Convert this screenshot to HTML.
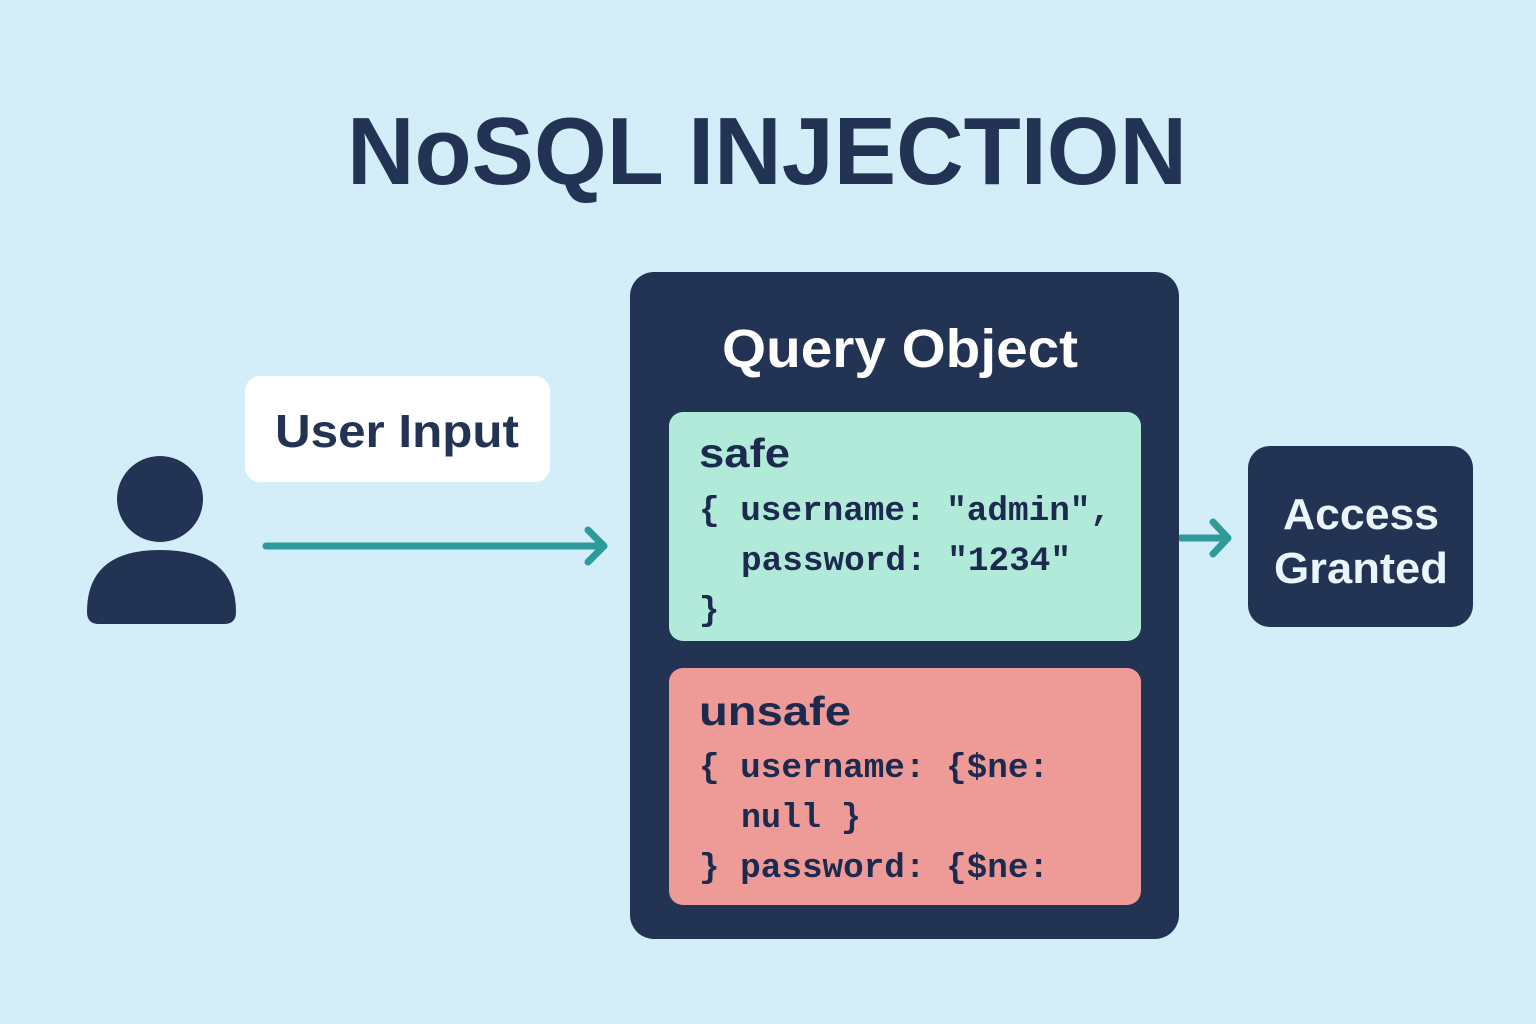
<!DOCTYPE html>
<html><head><meta charset="utf-8"><style>
html,body{margin:0;padding:0;width:1536px;height:1024px;overflow:hidden;background:#d3edf9}
svg{display:block}
</style></head><body>
<svg width="1536" height="1024" viewBox="0 0 1536 1024" xmlns="http://www.w3.org/2000/svg">
<rect width="1536" height="1024" fill="#d3edf9"/>
<text x="767" y="184" text-anchor="middle" font-family="Liberation Sans, sans-serif" font-weight="bold" font-size="96" fill="#223354" textLength="840" lengthAdjust="spacingAndGlyphs">NoSQL INJECTION</text>

<!-- person -->
<circle cx="160" cy="499" r="43" fill="#223354"/>
<path d="M87 612 Q87 550 160 550 Q236 550 236 612 Q236 624 224 624 L99 624 Q87 624 87 612 Z" fill="#223354"/>

<!-- user input -->
<rect x="245" y="376" width="305" height="106" rx="15" fill="#ffffff"/>
<text x="275" y="447" font-family="Liberation Sans, sans-serif" font-weight="bold" font-size="46" fill="#223354" textLength="244" lengthAdjust="spacingAndGlyphs">User Input</text>

<!-- arrow -->
<g stroke="#2f9a9a" stroke-width="7" stroke-linecap="round" stroke-linejoin="round" fill="none">
<line x1="266" y1="546" x2="600" y2="546"/>
<polyline points="588,530 604,546 588,562"/>
<line x1="1181" y1="538" x2="1224" y2="538"/>
<polyline points="1213,522 1228,538 1213,554"/>
</g>

<!-- query object -->
<rect x="630" y="272" width="549" height="667" rx="24" fill="#223354"/>
<text x="900" y="367" text-anchor="middle" font-family="Liberation Sans, sans-serif" font-weight="bold" font-size="54" fill="#ffffff" textLength="356" lengthAdjust="spacingAndGlyphs">Query Object</text>

<rect x="669" y="412" width="472" height="229" rx="14" fill="#b2ead9"/>
<text x="699" y="467" font-family="Liberation Sans, sans-serif" font-weight="bold" font-size="41" fill="#1c2a4f" textLength="91" lengthAdjust="spacingAndGlyphs">safe</text>
<g font-family="Liberation Mono, monospace" font-weight="bold" font-size="34" fill="#1c2a4f">
<text x="699" y="520" textLength="412" lengthAdjust="spacingAndGlyphs">{ username: "admin",</text>
<text x="741" y="570" textLength="330" lengthAdjust="spacingAndGlyphs">password: "1234"</text>
<text x="699" y="620">}</text>
</g>

<rect x="669" y="668" width="472" height="237" rx="14" fill="#ee9b97"/>
<text x="699" y="725" font-family="Liberation Sans, sans-serif" font-weight="bold" font-size="41" fill="#1c2a4f" textLength="152" lengthAdjust="spacingAndGlyphs">unsafe</text>
<g font-family="Liberation Mono, monospace" font-weight="bold" font-size="34" fill="#1c2a4f">
<text x="699" y="777" textLength="350" lengthAdjust="spacingAndGlyphs">{ username: {$ne:</text>
<text x="741" y="827" textLength="120" lengthAdjust="spacingAndGlyphs">null }</text>
<text x="699" y="877" textLength="350" lengthAdjust="spacingAndGlyphs">} password: {$ne:</text>
</g>

<!-- access granted -->
<rect x="1248" y="446" width="225" height="181" rx="22" fill="#223354"/>
<g font-family="Liberation Sans, sans-serif" font-weight="bold" font-size="44" fill="#eaf6fc" text-anchor="middle">
<text x="1361" y="529" textLength="156" lengthAdjust="spacingAndGlyphs">Access</text>
<text x="1361" y="583" textLength="174" lengthAdjust="spacingAndGlyphs">Granted</text>
</g>
</svg>
</body></html>
